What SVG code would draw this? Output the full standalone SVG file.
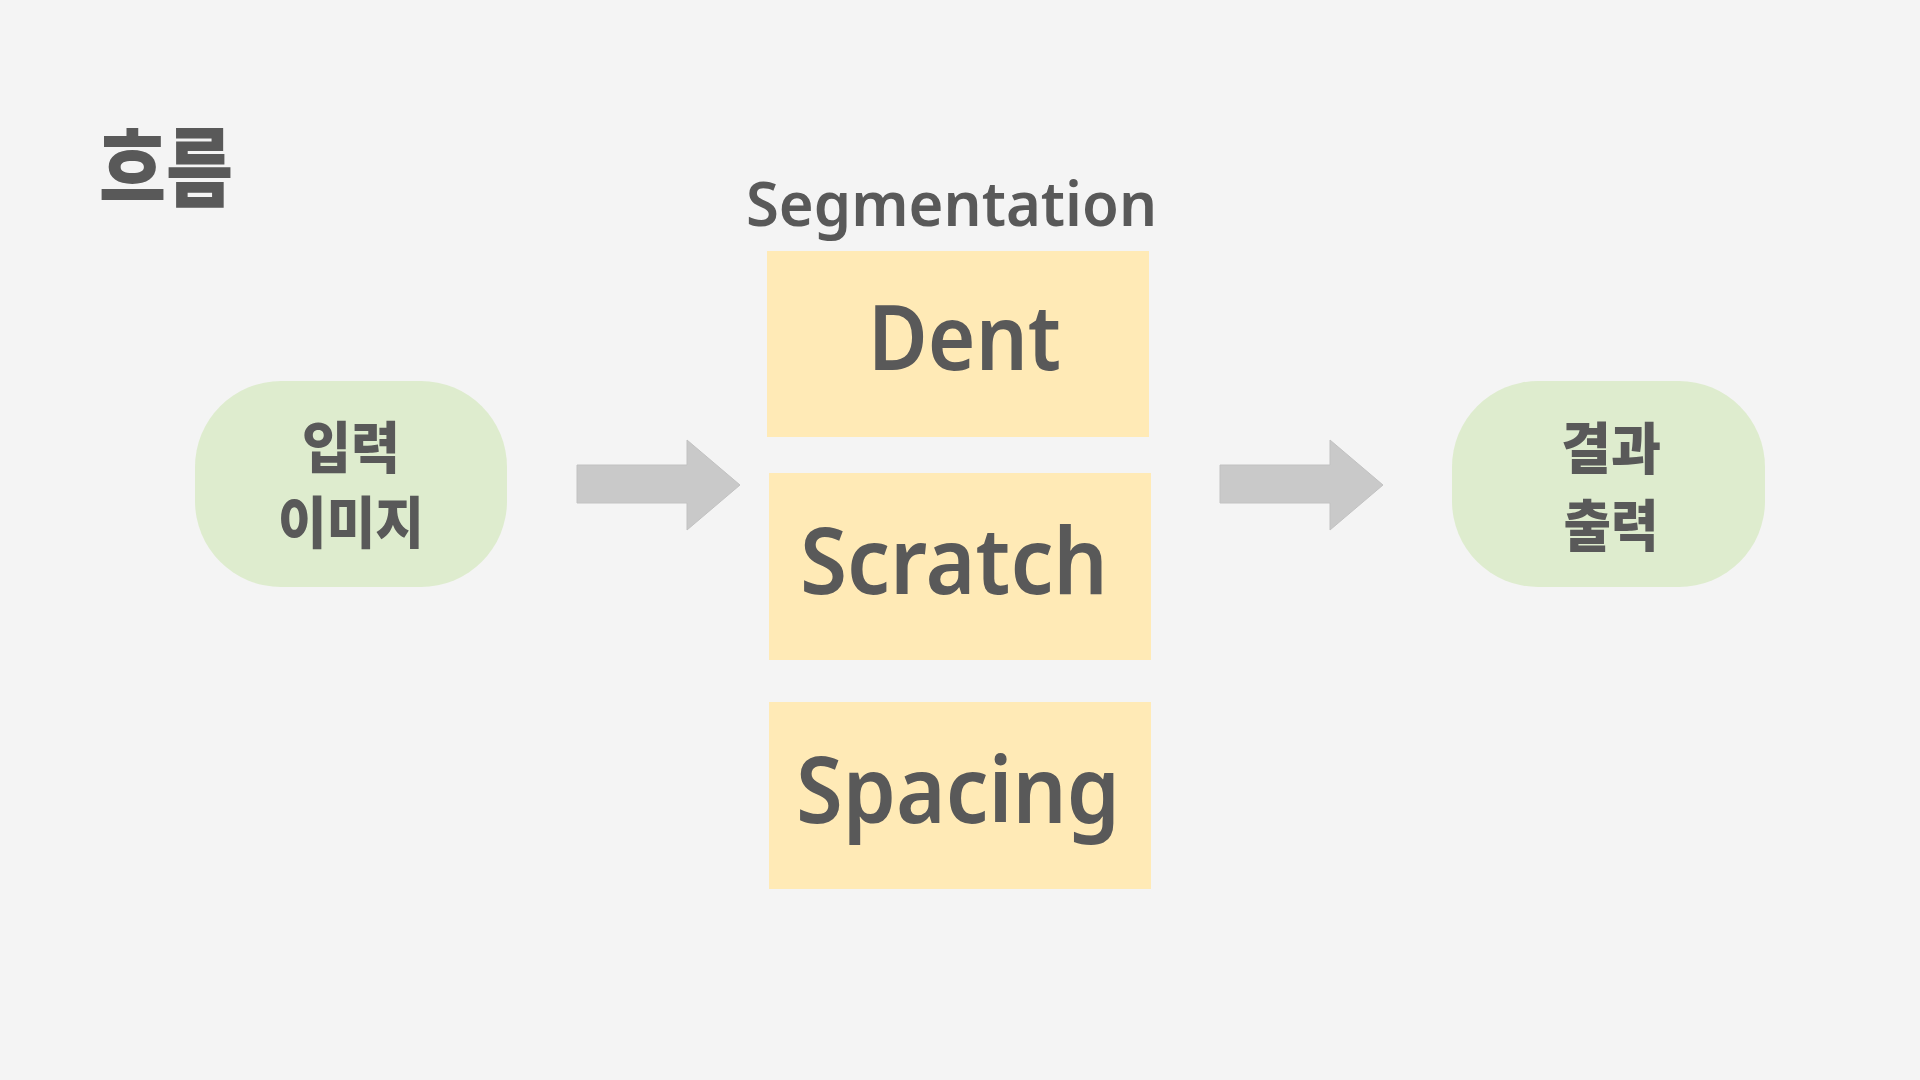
<svg xmlns="http://www.w3.org/2000/svg" width="1920" height="1080" viewBox="0 0 1920 1080">
<style>
.bg{fill:#f4f4f4}
.io{fill:#deecce}
.seg{fill:#ffeab6}
.arrow{fill:#c9c9c9;stroke:#c2c2c2;stroke-width:1}
.ko{font-family:"Noto Sans CJK KR","Noto Sans",sans-serif;font-weight:900;fill:#595959}
.en{font-family:"Noto Sans","Open Sans",sans-serif;font-weight:600;fill:#595959}
</style>
<rect class="bg" x="0" y="0" width="1920" height="1080"/>
<g id="title">
<text class="ko" x="99" y="200" font-size="86" textLength="134" lengthAdjust="spacingAndGlyphs">흐름</text>
</g>
<g id="seg-label">
<text class="en" x="746" y="226" font-size="62" textLength="411" lengthAdjust="spacingAndGlyphs">Segmentation</text>
</g>
<g id="connectors">
<polygon class="arrow" points="577,465 687,465 687,440 740,485 687,530 687,503 577,503"/>
<polygon class="arrow" points="1220,465 1330,465 1330,440 1383,485 1330,530 1330,503 1220,503"/>
</g>
<g id="input">
<rect class="io" x="195" y="381" width="312" height="206" rx="86" ry="86"/>
<text class="ko" x="351" y="468" font-size="56" text-anchor="middle" textLength="98" lengthAdjust="spacingAndGlyphs">입력</text>
<text class="ko" x="351" y="543" font-size="56" text-anchor="middle" textLength="146" lengthAdjust="spacingAndGlyphs">이미지</text>
</g>
<g id="dent">
<rect class="seg" x="767" y="251" width="382" height="186"/>
<text class="en" x="868" y="370" font-size="90" textLength="193" lengthAdjust="spacingAndGlyphs">Dent</text>
</g>
<g id="scratch">
<rect class="seg" x="769" y="473" width="382" height="187"/>
<text class="en" x="800" y="594" font-size="92" textLength="308" lengthAdjust="spacingAndGlyphs">Scratch</text>
</g>
<g id="spacing">
<rect class="seg" x="769" y="702" width="382" height="187"/>
<text class="en" x="796" y="823" font-size="92" textLength="324" lengthAdjust="spacingAndGlyphs">Spacing</text>
</g>
<g id="output">
<rect class="io" x="1452" y="381" width="313" height="206" rx="86" ry="86"/>
<text class="ko" x="1611" y="469" font-size="56" text-anchor="middle" textLength="100" lengthAdjust="spacingAndGlyphs">결과</text>
<text class="ko" x="1611" y="546" font-size="56" text-anchor="middle" textLength="95" lengthAdjust="spacingAndGlyphs">출력</text>
</g>
</svg>
